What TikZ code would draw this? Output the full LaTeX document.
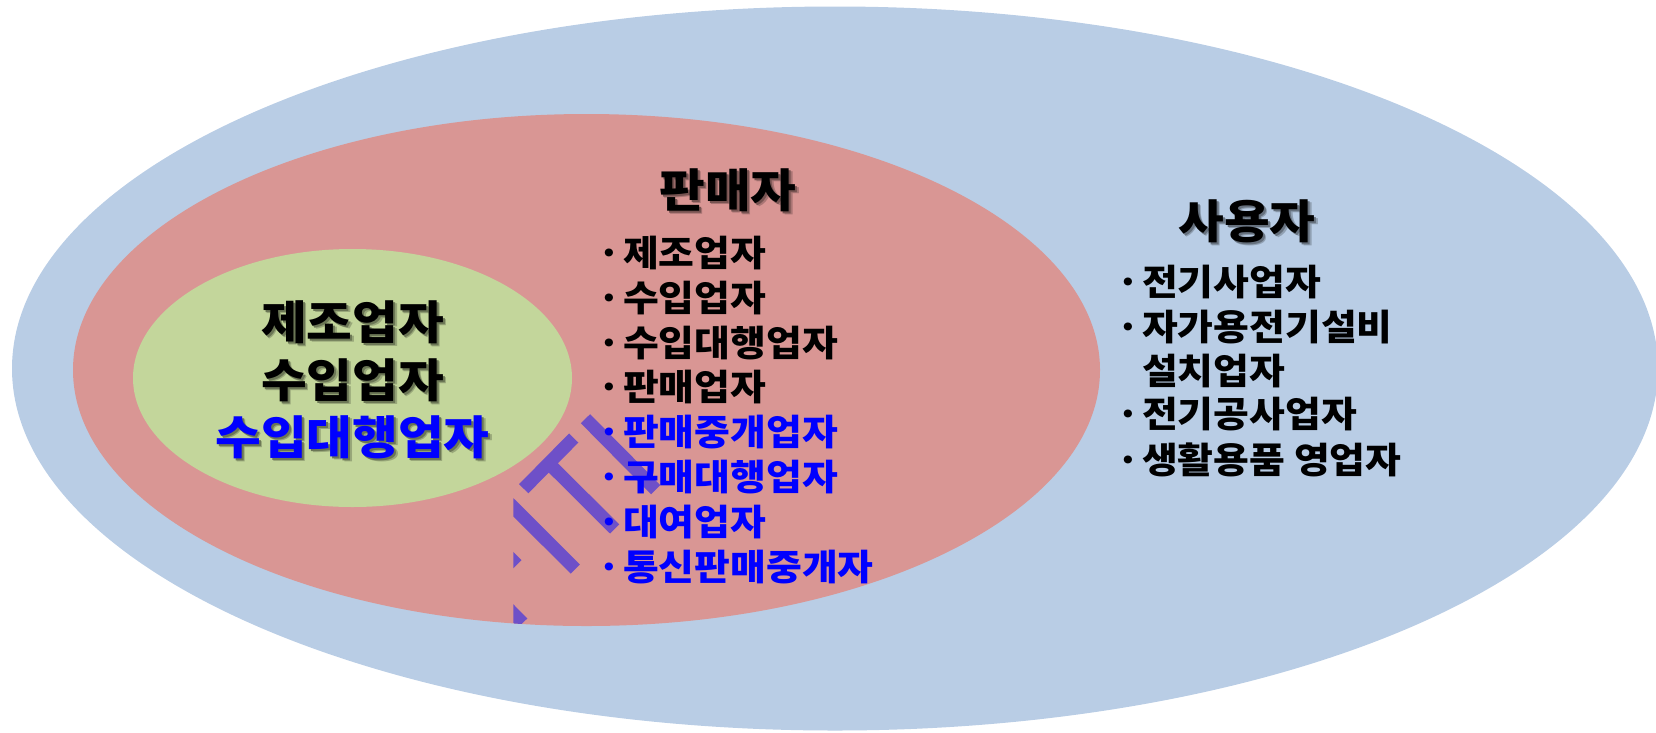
\documentclass[tikz,border=0pt]{standalone}
\usepackage{fontspec}
\setmainfont{Noto Sans CJK KR}[FakeStretch=1.08]
\usetikzlibrary{shapes.geometric}
\definecolor{bluefill}{RGB}{185,205,229}
\definecolor{redfill}{RGB}{217,150,148}
\definecolor{greenfill}{RGB}{195,214,155}
\definecolor{hatch}{RGB}{110,80,200}
\definecolor{kblue}{RGB}{0,0,255}
\newcommand{\shtext}[3]{\makebox[0pt][l]{\hspace{3.5pt}\raisebox{-3.5pt}{\color{black!22!#1}#3}}\makebox[0pt][l]{\hspace{2pt}\raisebox{-2pt}{\color{black!45!#1}#3}}{\color{#2}#3}}
\newcommand{\bul}{\makebox[28pt][c]{·}}
\tikzset{
  zone/.style={ellipse, inner sep=0pt, draw=none},
  titletext/.style={inner sep=0pt, font=\fontsize{46}{50}\selectfont\bfseries},
  greentext/.style={inner sep=0pt, font=\fontsize{46}{50}\selectfont\bfseries},
  itemtext/.style={inner sep=0pt, anchor=west, font=\fontsize{36}{40}\selectfont\bfseries},
  hatchbar/.style={line width=13pt, draw=hatch, line cap=butt}
}
\begin{document}
\begin{tikzpicture}[x=1pt,y=-1pt]
\useasboundingbox (0,0) rectangle (1656,732);
\clip (0,0) rectangle (1656,732);
% zones
\node (user) [zone, fill=bluefill, minimum width=1646pt, minimum height=724pt] at (835,368.5) {};
\node (seller) [zone, fill=redfill, minimum width=1027pt, minimum height=512pt] at (586.5,370) {};
\node (maker) [zone, fill=greenfill, minimum width=439pt, minimum height=258pt] at (352.5,378) {};
% hatch decoration
\begin{scope}
  \clip (513.3,0) rectangle (1656,732);
  \clip (586.5,370) ellipse [x radius=513.5, y radius=256];
  \draw[hatchbar] (585.5,418.7) -- (655.7,489.7);
  \draw[hatchbar] (523.7,488.7) -- (573.7,438);
  \draw[hatchbar] (548.7,463.3) -- (614.7,529);
  \draw[hatchbar] (493,487) -- (575.3,569);
  \draw[hatchbar] (487,534.7) -- (517,564.7);
  \draw[hatchbar] (490,590) -- (522.7,623);
\end{scope}
% green text
\node (g1) [greentext] at (352.5,324) {\shtext{greenfill}{black}{제조업자}};
\node (g2) [greentext] at (352.5,382) {\shtext{greenfill}{black}{수입업자}};
\node (g3) [greentext] at (352.5,439) {\shtext{greenfill}{kblue}{수입대행업자}};
% seller
\node (st) [titletext] at (728,192) {\shtext{redfill}{black}{판매자}};
\node (s1) [itemtext] at (595,253) {\bul 제조업자};
\node (s2) [itemtext] at (595,297.8) {\bul 수입업자};
\node (s3) [itemtext] at (595,342.6) {\bul 수입대행업자};
\node (s4) [itemtext] at (595,387.4) {\bul 판매업자};
\node (s5) [itemtext, text=kblue] at (595,432.2) {\bul 판매중개업자};
\node (s6) [itemtext, text=kblue] at (595,477) {\bul 구매대행업자};
\node (s7) [itemtext, text=kblue] at (595,521.8) {\bul 대여업자};
\node (s8) [itemtext, text=kblue] at (595,566.6) {\bul 통신판매중개자};
% user
\node (ut) [titletext] at (1247,223) {\shtext{bluefill}{black}{사용자}};
\node (u1) [itemtext] at (1114,282) {\bul 전기사업자};
\node (u2) [itemtext] at (1114,326.7) {\bul 자가용전기설비};
\node (u3) [itemtext] at (1114,370.7) {\makebox[28pt]{}설치업자};
\node (u4) [itemtext] at (1114,414) {\bul 전기공사업자};
\node (u5) [itemtext] at (1114,460) {\bul 생활용품 영업자};
\end{tikzpicture}
\end{document}
